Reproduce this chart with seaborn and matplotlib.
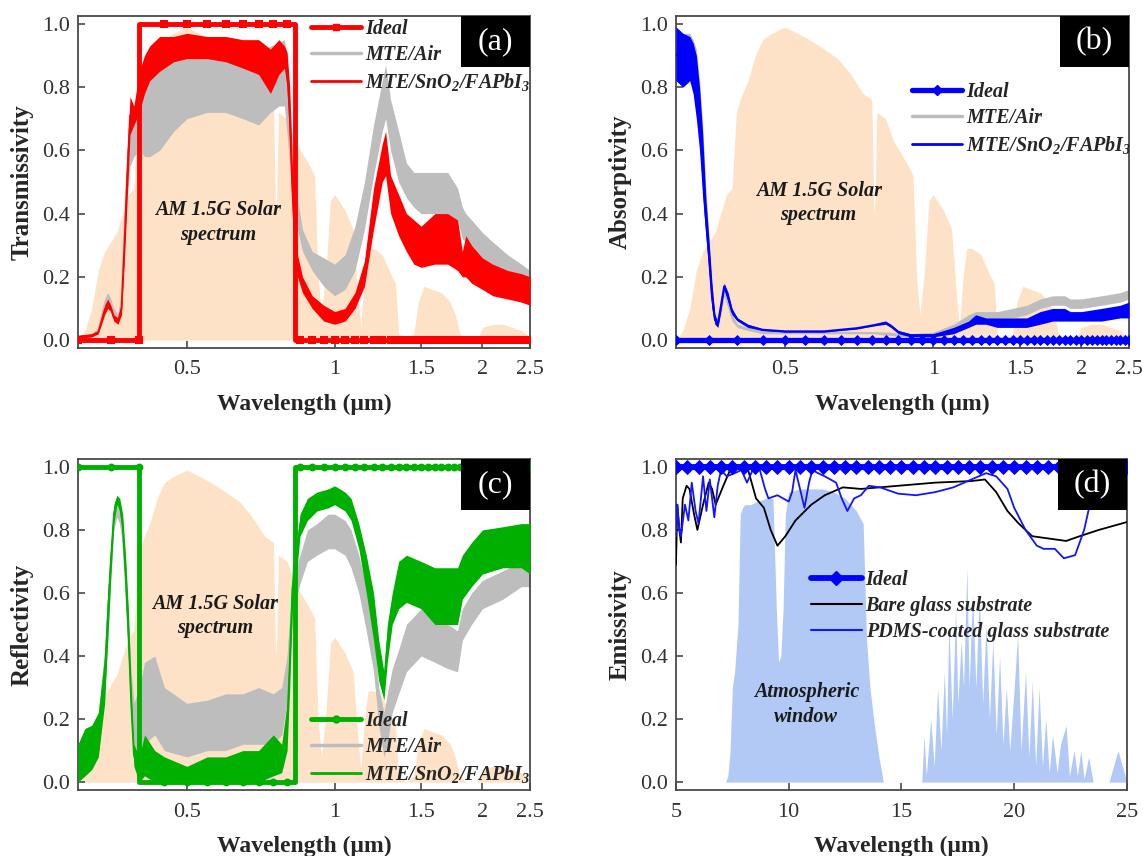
import numpy as np
import pandas as pd
import matplotlib
matplotlib.use("Agg")
import matplotlib.pyplot as plt
from matplotlib.lines import Line2D
from matplotlib.patches import Rectangle
from matplotlib.ticker import NullLocator
import seaborn as sns

# ---------------------------------------------------------------- data
# AM 1.5G solar spectrum, normalised to its peak (wavelength in um)
SOLAR_WL = [0.300, 0.310, 0.320, 0.330, 0.340, 0.350, 0.360, 0.370, 0.380, 0.390,
            0.398, 0.405, 0.420, 0.435, 0.450, 0.470, 0.500, 0.530, 0.560, 0.600,
            0.640, 0.680, 0.720, 0.750, 0.758, 0.762, 0.768, 0.800, 0.830, 0.860,
            0.890, 0.910, 0.925, 0.940, 0.960, 0.980, 1.000, 1.050, 1.090, 1.110,
            1.130, 1.150, 1.170, 1.200, 1.250, 1.300, 1.330, 1.350, 1.400, 1.450,
            1.480, 1.520, 1.580, 1.650, 1.720, 1.760, 1.800, 1.850, 1.950, 2.000,
            2.100, 2.200, 2.300, 2.400, 2.500]
SOLAR_REL = [0.00, 0.03, 0.10, 0.22, 0.28, 0.31, 0.34, 0.40, 0.46, 0.48,
             0.72, 0.76, 0.82, 0.90, 0.95, 0.97, 0.99, 0.97, 0.95, 0.92,
             0.89, 0.84, 0.78, 0.76, 0.40, 0.45, 0.72, 0.70, 0.63, 0.59,
             0.55, 0.52, 0.20, 0.08, 0.22, 0.44, 0.46, 0.41, 0.35, 0.18,
             0.04, 0.20, 0.29, 0.29, 0.27, 0.21, 0.18, 0.02, 0.00, 0.02,
             0.12, 0.17, 0.16, 0.15, 0.12, 0.08, 0.02, 0.00, 0.00, 0.04,
             0.05, 0.05, 0.04, 0.03, 0.01]

# Ideal spectral selectivity: transmissive band of the perovskite top cell
IDEAL_BAND = (0.40, 0.83)
VIS_MARK_STEP = 0.05    # um between ideal-curve markers, panels a-c
IR_MARK_STEP = 0.5      # um between ideal-curve markers, panel d

# (a) transmissivity: lower / upper envelope of the measured spectra
T_WL = [0.30, 0.32, 0.33, 0.34, 0.345, 0.35, 0.355, 0.362, 0.368, 0.373,
        0.378, 0.383, 0.39, 0.40, 0.41, 0.42, 0.44, 0.47, 0.50, 0.55,
        0.60, 0.65, 0.70, 0.74, 0.77, 0.79, 0.80, 0.81, 0.82, 0.83,
        0.84, 0.86, 0.90, 0.95, 1.00, 1.05, 1.10, 1.15, 1.20, 1.25,
        1.27, 1.30, 1.35, 1.40, 1.45, 1.50, 1.60, 1.70, 1.78, 1.82,
        1.85, 1.90, 2.00, 2.10, 2.25, 2.40, 2.50]
T_PVK_LO = [0.005, 0.01, 0.02, 0.08, 0.10, 0.09, 0.06, 0.05, 0.08, 0.25,
            0.45, 0.65, 0.68, 0.72, 0.78, 0.82, 0.85, 0.88, 0.89, 0.89,
            0.88, 0.86, 0.84, 0.78, 0.84, 0.86, 0.80, 0.62, 0.40, 0.25,
            0.20, 0.15, 0.10, 0.06, 0.05, 0.06, 0.10, 0.17, 0.35, 0.50,
            0.52, 0.40, 0.33, 0.28, 0.24, 0.23, 0.24, 0.24, 0.22, 0.20,
            0.20, 0.18, 0.16, 0.14, 0.13, 0.12, 0.11]
T_PVK_HI = [0.015, 0.02, 0.03, 0.11, 0.13, 0.11, 0.08, 0.07, 0.12, 0.35,
            0.60, 0.77, 0.74, 0.85, 0.90, 0.93, 0.96, 0.96, 0.97, 0.96,
            0.96, 0.95, 0.95, 0.92, 0.95, 0.93, 0.91, 0.80, 0.55, 0.38,
            0.27, 0.20, 0.14, 0.11, 0.09, 0.10, 0.15, 0.25, 0.48, 0.62,
            0.66, 0.52, 0.46, 0.40, 0.38, 0.36, 0.40, 0.40, 0.38, 0.28,
            0.33, 0.30, 0.26, 0.24, 0.22, 0.21, 0.20]
T_AIR_LO = [0.005, 0.01, 0.02, 0.10, 0.12, 0.10, 0.07, 0.05, 0.10, 0.30,
            0.45, 0.55, 0.58, 0.60, 0.58, 0.58, 0.60, 0.66, 0.70, 0.72,
            0.72, 0.70, 0.68, 0.72, 0.74, 0.74, 0.65, 0.55, 0.45, 0.38,
            0.35, 0.28, 0.22, 0.17, 0.14, 0.16, 0.22, 0.35, 0.52, 0.66,
            0.70, 0.60, 0.50, 0.45, 0.42, 0.40, 0.40, 0.40, 0.38, 0.32,
            0.31, 0.30, 0.26, 0.24, 0.21, 0.18, 0.16]
T_AIR_HI = [0.015, 0.02, 0.04, 0.13, 0.15, 0.13, 0.10, 0.08, 0.15, 0.40,
            0.60, 0.70, 0.68, 0.75, 0.80, 0.82, 0.86, 0.90, 0.92, 0.90,
            0.90, 0.90, 0.90, 0.93, 0.94, 0.95, 0.90, 0.75, 0.62, 0.50,
            0.45, 0.35, 0.28, 0.26, 0.24, 0.27, 0.36, 0.50, 0.68, 0.82,
            0.87, 0.76, 0.66, 0.56, 0.53, 0.53, 0.53, 0.53, 0.48, 0.42,
            0.40, 0.38, 0.34, 0.31, 0.27, 0.24, 0.22]

# (b) absorptivity
A_WL = [0.30, 0.31, 0.32, 0.325, 0.33, 0.335, 0.34, 0.345, 0.35, 0.355,
        0.36, 0.365, 0.37, 0.376, 0.383, 0.39, 0.40, 0.42, 0.45, 0.50,
        0.60, 0.70, 0.76, 0.80, 0.82, 0.85, 0.90, 1.00, 1.10, 1.18,
        1.22, 1.28, 1.35, 1.45, 1.55, 1.65, 1.75, 1.85, 1.90, 2.00,
        2.20, 2.40, 2.50]
A_PVK_LO = [0.82, 0.80, 0.82, 0.78, 0.70, 0.60, 0.45, 0.33, 0.22, 0.10,
            0.05, 0.04, 0.09, 0.16, 0.12, 0.08, 0.06, 0.04, 0.03, 0.025,
            0.025, 0.035, 0.045, 0.05, 0.04, 0.02, 0.01, 0.01, 0.02, 0.04,
            0.05, 0.05, 0.04, 0.04, 0.04, 0.05, 0.06, 0.06, 0.06, 0.06,
            0.06, 0.07, 0.07]
A_PVK_HI = [0.99, 0.97, 0.96, 0.94, 0.90, 0.80, 0.65, 0.45, 0.32, 0.18,
            0.08, 0.06, 0.12, 0.18, 0.15, 0.10, 0.07, 0.05, 0.035, 0.03,
            0.03, 0.04, 0.05, 0.06, 0.05, 0.03, 0.02, 0.02, 0.04, 0.06,
            0.08, 0.07, 0.07, 0.07, 0.07, 0.09, 0.10, 0.10, 0.09, 0.09,
            0.10, 0.11, 0.12]
A_AIR_LO = [0.85, 0.83, 0.84, 0.80, 0.72, 0.62, 0.48, 0.35, 0.23, 0.10,
            0.05, 0.04, 0.08, 0.14, 0.10, 0.06, 0.04, 0.03, 0.02, 0.02,
            0.02, 0.02, 0.02, 0.015, 0.015, 0.012, 0.01, 0.015, 0.03, 0.06,
            0.07, 0.07, 0.07, 0.07, 0.08, 0.10, 0.11, 0.11, 0.10, 0.10,
            0.11, 0.12, 0.13]
A_AIR_HI = [0.99, 0.97, 0.97, 0.95, 0.92, 0.82, 0.68, 0.48, 0.33, 0.18,
            0.08, 0.06, 0.11, 0.16, 0.13, 0.08, 0.05, 0.04, 0.03, 0.025,
            0.025, 0.025, 0.025, 0.025, 0.025, 0.02, 0.02, 0.025, 0.05, 0.08,
            0.09, 0.09, 0.09, 0.10, 0.11, 0.13, 0.14, 0.14, 0.13, 0.13,
            0.14, 0.15, 0.16]

# (c) reflectivity
R_WL = [0.30, 0.31, 0.32, 0.33, 0.34, 0.345, 0.35, 0.355, 0.36, 0.365,
        0.37, 0.375, 0.38, 0.385, 0.39, 0.40, 0.41, 0.43, 0.45, 0.50,
        0.55, 0.60, 0.65, 0.70, 0.75, 0.78, 0.80, 0.81, 0.82, 0.835,
        0.85, 0.88, 0.92, 0.97, 1.00, 1.05, 1.08, 1.12, 1.16, 1.20,
        1.23, 1.26, 1.28, 1.31, 1.35, 1.40, 1.50, 1.60, 1.70, 1.78,
        1.82, 1.90, 2.00, 2.20, 2.40, 2.50]
R_PVK_LO = [0.00, 0.02, 0.04, 0.08, 0.25, 0.45, 0.65, 0.82, 0.88, 0.86,
            0.78, 0.60, 0.40, 0.20, 0.05, 0.00, 0.02, 0.00, 0.00, 0.00,
            0.01, 0.00, 0.01, 0.00, 0.02, 0.03, 0.10, 0.30, 0.55, 0.65,
            0.78, 0.83, 0.86, 0.87, 0.88, 0.86, 0.83, 0.74, 0.60, 0.45,
            0.32, 0.26, 0.38, 0.50, 0.55, 0.57, 0.55, 0.50, 0.50, 0.50,
            0.58, 0.62, 0.66, 0.68, 0.68, 0.66]
R_PVK_HI = [0.12, 0.17, 0.18, 0.22, 0.40, 0.60, 0.75, 0.88, 0.91, 0.90,
            0.85, 0.72, 0.55, 0.30, 0.12, 0.08, 0.15, 0.10, 0.08, 0.05,
            0.08, 0.08, 0.10, 0.10, 0.15, 0.12, 0.25, 0.45, 0.68, 0.75,
            0.85, 0.90, 0.92, 0.93, 0.94, 0.92, 0.90, 0.82, 0.72, 0.60,
            0.45, 0.35, 0.50, 0.60, 0.70, 0.72, 0.70, 0.68, 0.68, 0.68,
            0.72, 0.76, 0.80, 0.81, 0.82, 0.82]
R_AIR_LO = [0.00, 0.02, 0.04, 0.08, 0.28, 0.45, 0.65, 0.80, 0.84, 0.82,
            0.75, 0.60, 0.42, 0.25, 0.12, 0.08, 0.12, 0.15, 0.10, 0.08,
            0.10, 0.10, 0.12, 0.12, 0.12, 0.15, 0.25, 0.40, 0.50, 0.58,
            0.63, 0.70, 0.72, 0.74, 0.74, 0.72, 0.68, 0.60, 0.48, 0.35,
            0.18, 0.08, 0.12, 0.22, 0.28, 0.35, 0.40, 0.38, 0.36, 0.35,
            0.45, 0.50, 0.55, 0.58, 0.62, 0.62]
R_AIR_HI = [0.12, 0.17, 0.18, 0.22, 0.42, 0.60, 0.75, 0.85, 0.88, 0.86,
            0.82, 0.70, 0.52, 0.35, 0.25, 0.30, 0.38, 0.40, 0.30, 0.25,
            0.26, 0.28, 0.28, 0.30, 0.28, 0.30, 0.40, 0.52, 0.62, 0.68,
            0.72, 0.80, 0.82, 0.85, 0.85, 0.83, 0.80, 0.72, 0.62, 0.48,
            0.30, 0.22, 0.28, 0.36, 0.42, 0.50, 0.55, 0.55, 0.50, 0.48,
            0.55, 0.60, 0.64, 0.67, 0.70, 0.70]

# (d) mid-infrared emissivity and atmospheric transmittance
GLASS_WL = [5.00, 5.06, 5.15, 5.22, 5.30, 5.47, 5.60, 5.80, 5.95, 6.20,
            6.45, 6.60, 6.76, 7.10, 7.40, 7.70, 8.20, 8.55, 8.90, 9.20,
            9.50, 9.85, 10.3, 11.0, 11.6, 12.4, 13.2, 14.85, 16.5, 18.1,
            18.7, 19.2, 19.7, 20.2, 20.8, 21.3, 22.3, 22.9, 23.75, 25.0]
GLASS_E = [0.69, 0.88, 0.80, 0.76, 0.90, 0.94, 0.93, 0.85, 0.80, 0.88,
           0.95, 0.93, 0.88, 0.94, 0.99, 1.00, 0.99, 0.90, 0.87, 0.80,
           0.75, 0.78, 0.83, 0.88, 0.91, 0.935, 0.93, 0.94, 0.95, 0.955,
           0.96, 0.92, 0.86, 0.82, 0.78, 0.775, 0.765, 0.78, 0.80, 0.825]
PDMS_WL = [5.00, 5.06, 5.15, 5.22, 5.40, 5.55, 5.70, 5.87, 6.00, 6.20,
           6.35, 6.50, 6.70, 6.85, 7.00, 7.25, 7.60, 7.90, 8.15, 8.40,
           8.70, 8.95, 9.10, 9.50, 9.75, 10.0, 10.15, 10.3, 10.5, 10.7,
           10.9, 11.05, 11.3, 11.6, 12.1, 12.35, 12.6, 12.9, 13.2, 13.55,
           14.05, 14.85, 15.65, 16.5, 17.3, 18.1, 18.75, 19.2, 19.7, 20.0,
           20.5, 21.0, 21.3, 21.8, 22.0, 22.2, 22.7, 22.85, 23.1, 23.35,
           23.6, 23.8, 24.0]
PDMS_E = [0.78, 0.88, 0.80, 0.78, 0.88, 0.83, 0.95, 0.86, 0.82, 0.97,
          0.86, 0.96, 0.84, 0.94, 0.99, 0.97, 0.98, 0.99, 0.95, 0.99,
          0.995, 0.93, 0.90, 0.91, 0.90, 0.89, 0.92, 0.99, 0.93, 0.87,
          0.95, 0.99, 0.98, 0.97, 0.95, 0.90, 0.86, 0.90, 0.91, 0.94,
          0.935, 0.915, 0.91, 0.92, 0.935, 0.96, 0.98, 0.97, 0.93, 0.87,
          0.80, 0.75, 0.74, 0.74, 0.725, 0.71, 0.72, 0.75, 0.80, 0.88,
          0.97, 1.00, 1.00]
ATM_WL = [5.0, 7.2, 7.3, 7.4, 7.5, 7.6, 7.75, 7.85, 7.95, 8.05,
          8.3, 8.6, 9.0, 9.3, 9.45, 9.55, 9.65, 9.75, 9.85, 10.0,
          10.5, 11.0, 11.5, 12.0, 12.5, 13.0, 13.3, 13.45, 13.6, 13.8,
          14.0, 14.2, 15.9, 16.0, 16.1, 16.3, 16.45, 16.6, 16.75, 16.9,
          17.0, 17.1, 17.25, 17.4, 17.5, 17.65, 17.75, 17.9, 18.0, 18.15,
          18.3, 18.45, 18.6, 18.75, 18.9, 19.05, 19.2, 19.35, 19.5, 19.65,
          19.8, 20.0, 20.15, 20.3, 20.5, 20.65, 20.8, 20.95, 21.1, 21.25,
          21.4, 21.55, 21.7, 21.9, 22.05, 22.3, 22.45, 22.65, 22.8, 22.95,
          23.1, 23.3, 23.5, 24.2, 24.4, 24.6, 24.8, 25.0]
ATM_T = [0.0, 0.0, 0.02, 0.10, 0.30, 0.35, 0.50, 0.85, 0.87, 0.88,
         0.88, 0.89, 0.90, 0.90, 0.55, 0.38, 0.40, 0.55, 0.85, 0.92,
         0.93, 0.93, 0.93, 0.92, 0.90, 0.86, 0.82, 0.45, 0.30, 0.18,
         0.08, 0.0, 0.0, 0.15, 0.02, 0.20, 0.05, 0.30, 0.10, 0.35,
         0.15, 0.50, 0.20, 0.55, 0.25, 0.45, 0.30, 0.68, 0.30, 0.60,
         0.30, 0.60, 0.25, 0.50, 0.20, 0.45, 0.15, 0.40, 0.12, 0.30,
         0.10, 0.30, 0.47, 0.10, 0.35, 0.08, 0.32, 0.05, 0.30, 0.05,
         0.20, 0.03, 0.15, 0.03, 0.12, 0.18, 0.02, 0.10, 0.02, 0.10,
         0.01, 0.08, 0.0, 0.0, 0.05, 0.10, 0.05, 0.0]

VIS_TICKS = [0.5, 1, 1.5, 2, 2.5]
VIS_TICK_LABELS = ["0.5", "1", "1.5", "2", "2.5"]
IR_TICKS = [5, 10, 15, 20, 25]
Y_TICKS = [0.0, 0.2, 0.4, 0.6, 0.8, 1.0]

# ---------------------------------------------------------------- style
RED, GREEN, BLUE = "#ff0000", "#00b000", "#0000ff"
GRAY = "#bdbdbd"
PEACH = "#fde2c8"
SKY = "#b2c9f6"
SPINE = "#4a4a4a"

sns.set_theme(style="ticks")
plt.rcParams["font.family"] = ["Liberation Serif", "DejaVu Serif"]
plt.rcParams["mathtext.fontset"] = "custom"
plt.rcParams["mathtext.rm"] = "Liberation Serif:italic:bold"
plt.rcParams["mathtext.it"] = "Liberation Serif:italic:bold"
plt.rcParams["mathtext.bf"] = "Liberation Serif:italic:bold"

LEG_FONT = dict(family="Liberation Serif", weight="bold", style="italic", size=14.5)
NOTE_FONT = dict(family="Liberation Serif", weight="bold", style="italic", size=14.5)

fig = plt.figure(figsize=(11.43, 8.56), dpi=100)
ax_a = fig.add_axes([0.0682, 0.5935, 0.3955, 0.3879])
ax_b = fig.add_axes([0.5914, 0.5935, 0.3963, 0.3879])
ax_c = fig.add_axes([0.0682, 0.0771, 0.3955, 0.3867])
ax_d = fig.add_axes([0.5914, 0.0771, 0.3946, 0.3867])


def band(ax, wl, lo, hi, color, lw, z):
    """Measured spectrum drawn as the envelope of its fast oscillations."""
    wl = np.asarray(wl, float)
    df = pd.DataFrame({"wl": np.concatenate([wl, wl]),
                       "v": np.concatenate([lo, hi])})
    sns.lineplot(data=df, x="wl", y="v", estimator="mean", errorbar=("pi", 100),
                 color=color, lw=lw, ax=ax, zorder=z,
                 err_kws={"alpha": 1, "linewidth": 0, "zorder": z})


def ideal_step(ax, wl_lim, band_lim, inside, outside, step, color, marker, ms, lw):
    """Ideal step response with markers on a regular wavelength grid."""
    lo, hi = band_lim
    xs = [wl_lim[0], lo, lo, hi, hi, wl_lim[1]]
    ys = [outside, outside, inside, inside, outside, outside]
    sns.lineplot(x=xs, y=ys, estimator=None, sort=False, color=color, lw=lw,
                 ax=ax, zorder=5)
    grid = np.round(np.arange(wl_lim[0], wl_lim[1] + step / 2, step), 3)
    vals = np.where((grid > lo) & (grid < hi), inside, outside)
    sns.scatterplot(x=grid, y=vals, marker=marker, s=ms, color=color,
                    linewidth=0, ax=ax, zorder=6)


def frame(ax, ylabel, tag):
    ax.set_ylim(-0.025, 1.025)
    ax.set_yticks(Y_TICKS, [f"{v:.1f}" for v in Y_TICKS])
    ax.set_ylabel(ylabel, fontsize=18, fontweight="bold", labelpad=6)
    ax.set_xlabel("Wavelength (μm)", fontsize=17, fontweight="bold", labelpad=10)
    ax.tick_params(axis="both", direction="in", length=5, width=1.2, labelsize=16,
                   labelcolor="#333333", color=SPINE, top=False, right=False)
    ax.tick_params(axis="x", pad=9)
    ax.tick_params(axis="y", pad=6)
    for s in ax.spines.values():
        s.set_visible(True)
        s.set_color(SPINE)
        s.set_linewidth(1.3)
    ax.add_patch(Rectangle((0.848, 0.847), 0.152, 0.153, transform=ax.transAxes,
                           facecolor="black", edgecolor="none", zorder=20))
    ax.text(0.924, 0.923, tag, transform=ax.transAxes, color="white",
            fontsize=23, ha="center", va="center", zorder=21)


def vis_axis(ax):
    ax.set_xscale("log")
    ax.set_xlim(0.3, 2.5)
    ax.set_xticks(VIS_TICKS, VIS_TICK_LABELS)
    ax.xaxis.set_minor_locator(NullLocator())


def legend(ax, handles, labels, anchor, loc="upper left"):
    ax.legend(handles, labels, loc=loc, bbox_to_anchor=anchor, frameon=False,
              prop=LEG_FONT, handlelength=2.5, handletextpad=0.2,
              labelspacing=0.3, borderaxespad=0, borderpad=0, numpoints=1)


def solar(ax):
    ax.fill_between(SOLAR_WL, 0, SOLAR_REL, color=PEACH, lw=0, zorder=0)


PVK_LABEL = r"MTE/SnO$_2$/FAPbI$_3$"

# ---- (a) transmissivity
vis_axis(ax_a)
solar(ax_a)
band(ax_a, T_WL, T_AIR_LO, T_AIR_HI, GRAY, 1.2, 2)
band(ax_a, T_WL, T_PVK_LO, T_PVK_HI, RED, 1.2, 3)
ideal_step(ax_a, (0.3, 2.5), IDEAL_BAND, 1, 0, VIS_MARK_STEP, RED, "s", 32, 3.5)
frame(ax_a, "Transmissivity", "(a)")
ax_a.text(0.31, 0.378, "AM 1.5G Solar\nspectrum", transform=ax_a.transAxes,
          ha="center", va="center", color="#1a1a1a", linespacing=1.3, **NOTE_FONT)
legend(ax_a,
       [Line2D([], [], color=RED, lw=3.5, marker="s", ms=5),
        Line2D([], [], color=GRAY, lw=2.5),
        Line2D([], [], color=RED, lw=2)],
       ["Ideal", "MTE/Air", PVK_LABEL], (0.515, 0.99))

# ---- (b) absorptivity
vis_axis(ax_b)
solar(ax_b)
band(ax_b, A_WL, A_AIR_LO, A_AIR_HI, GRAY, 1.2, 2)
band(ax_b, A_WL, A_PVK_LO, A_PVK_HI, BLUE, 1.5, 3)
ideal_step(ax_b, (0.3, 2.5), IDEAL_BAND, 0, 0, VIS_MARK_STEP, BLUE, "D", 32, 3.8)
frame(ax_b, "Absorptivity", "(b)")
ax_b.text(0.315, 0.437, "AM 1.5G Solar\nspectrum", transform=ax_b.transAxes,
          ha="center", va="center", color="#1a1a1a", linespacing=1.3, **NOTE_FONT)
legend(ax_b,
       [Line2D([], [], color=BLUE, lw=3.8, marker="D", ms=5),
        Line2D([], [], color=GRAY, lw=2.5),
        Line2D([], [], color=BLUE, lw=2)],
       ["Ideal", "MTE/Air", PVK_LABEL], (0.52, 0.80))

# ---- (c) reflectivity
vis_axis(ax_c)
solar(ax_c)
band(ax_c, R_WL, R_AIR_LO, R_AIR_HI, GRAY, 1.2, 2)
band(ax_c, R_WL, R_PVK_LO, R_PVK_HI, GREEN, 1.2, 3)
ideal_step(ax_c, (0.3, 2.5), IDEAL_BAND, 0, 1, VIS_MARK_STEP, GREEN, "o", 32, 3.5)
frame(ax_c, "Reflectivity", "(c)")
ax_c.text(0.303, 0.525, "AM 1.5G Solar\nspectrum", transform=ax_c.transAxes,
          ha="center", va="center", color="#1a1a1a", linespacing=1.3, **NOTE_FONT)
legend(ax_c,
       [Line2D([], [], color=GREEN, lw=3.5, marker="o", ms=5),
        Line2D([], [], color=GRAY, lw=2.5),
        Line2D([], [], color=GREEN, lw=2)],
       ["Ideal", "MTE/Air", PVK_LABEL], (0.515, 0.24))

# ---- (d) emissivity
ax_d.set_xlim(5, 25)
ax_d.set_xticks(IR_TICKS, [str(t) for t in IR_TICKS])
ax_d.fill_between(ATM_WL, 0, ATM_T, color=SKY, lw=0, zorder=0)
sns.lineplot(x=GLASS_WL, y=GLASS_E, estimator=None, sort=False, color="black",
             lw=1.3, ax=ax_d, zorder=3)
sns.lineplot(x=PDMS_WL, y=PDMS_E, estimator=None, sort=False, color="#1414ff",
             lw=1.3, ax=ax_d, zorder=4)
ideal_step(ax_d, (5, 25), (5, 25), 1, 1, IR_MARK_STEP, BLUE, "D", 60, 4.2)
frame(ax_d, "Emissivity", "(d)")
ax_d.text(0.289, 0.258, "Atmospheric\nwindow", transform=ax_d.transAxes,
          ha="center", va="center", color="#1a1a1a", linespacing=1.3, **NOTE_FONT)
legend(ax_d,
       [Line2D([], [], color=BLUE, lw=4.2, marker="D", ms=7),
        Line2D([], [], color="black", lw=1.5),
        Line2D([], [], color="#1414ff", lw=1.5)],
       ["Ideal", "Bare glass substrate", "PDMS-coated glass substrate"],
       (0.30, 0.665))

fig.savefig("out.png", dpi=100)
